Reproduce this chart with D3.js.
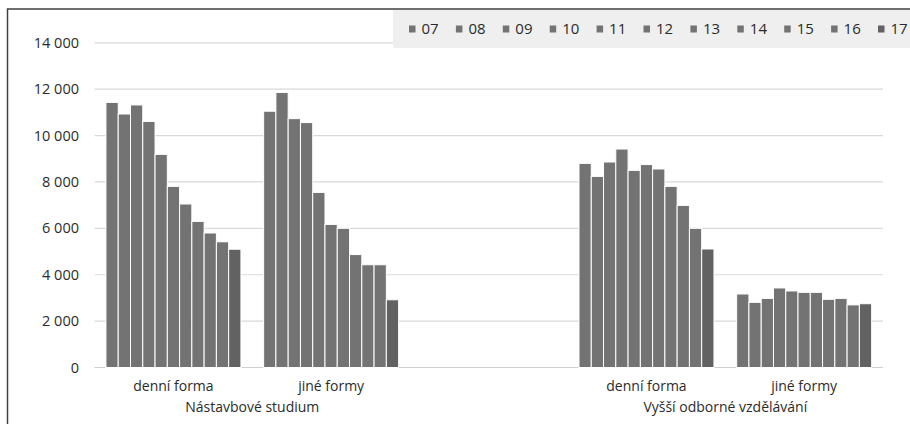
<!DOCTYPE html>
<html lang="cs">
    <head>
        <meta charset="utf-8">
        <title>Nástavbové studium a VOŠ</title>
        <script src="https://cdn.jsdelivr.net/npm/d3@7"></script>
        <style type="text/css">
            body { margin: 0; background: #fff; }
            text { font-family: "Open Sans", sans-serif; fill: #2b2b2b; }
        </style>
    </head>
    <body>
        <script type="text/javascript">
            // series = school years 07..17
            const years = ["07", "08", "09", "10", "11", "12", "13", "14", "15", "16", "17"]
            // x categories, "" is the empty slot between the two groups
            const categories = ["denní forma", "jiné formy", "", "denní forma", "jiné formy"]
            const groups = ["Nástavbové studium", "Vyšší odborné vzdělávání"]
            const yTicks = [0, 2000, 4000, 6000, 8000, 10000, 12000, 14000]

            // values, one array per category, years 07..17
            const nastDenni = [11430, 10930, 11320, 10610, 9190, 7810, 7050, 6300, 5800, 5420, 5100]
            const nastJine  = [11050, 11860, 10730, 10560, 7550, 6170, 6000, 4870, 4430, 4430, 2920]
            const vosDenni  = [8800, 8240, 8860, 9420, 8500, 8750, 8560, 7810, 6990, 6000, 5110]
            const vosJine   = [3170, 2810, 2980, 3430, 3300, 3240, 3240, 2940, 2980, 2700, 2750]

            const catValues = [nastDenni, nastJine, null, vosDenni, vosJine]

            const w = 910
            const h = 424
            const plotLeft = 94.6
            const plotRight = 883
            const plotTop = 42.8
            const plotBottom = 367.5

            const svg = d3.select("body")
                            .append("svg")
                            .attr("width", w)
                            .attr("height", h)

            // frame
            svg.append("path")
                .attr("d", `M7.5,${h} V9 H${w}`)
                .attr("fill", "none")
                .attr("stroke", "#404040")
                .attr("stroke-width", 1.5)

            const x0 = d3.scaleBand()
                            .domain(d3.range(categories.length))
                            .range([plotLeft, plotRight])
                            .paddingInner(0.144)
                            .paddingOuter(0.072)

            const x1 = d3.scaleBand()
                            .domain(years)
                            .range([0, x0.bandwidth()])

            const y = d3.scaleLinear()
                            .domain([0, 14000])
                            .range([plotBottom, plotTop])

            // gridlines
            svg.append("g")
                .selectAll("line")
                .data(yTicks)
                .enter()
                .append("line")
                .attr("x1", plotLeft)
                .attr("x2", plotRight)
                .attr("y1", d => y(d))
                .attr("y2", d => y(d))
                .attr("stroke", d => d === 0 ? "#cfcfcf" : "#d9d9d9")
                .attr("stroke-width", 1.2)

            // y labels
            const fmt = d => d3.format(",")(d).replace(/,/g, " ")
            svg.append("g")
                .selectAll("text")
                .data(yTicks)
                .enter()
                .append("text")
                .attr("x", 79)
                .attr("y", d => y(d))
                .attr("dy", "0.35em")
                .attr("text-anchor", "end")
                .attr("font-size", "14.5px")
                .text(fmt)

            // bars
            const barData = []
            catValues.forEach((vals, ci) => {
                if (!vals) return
                vals.forEach((v, yi) => barData.push({ ci, year: years[yi], v }))
            })

            svg.append("g")
                .selectAll("rect")
                .data(barData)
                .enter()
                .append("rect")
                .attr("x", d => x0(d.ci) + x1(d.year))
                .attr("y", d => y(d.v))
                .attr("width", x1.bandwidth())
                .attr("height", d => y(0) - y(d.v))
                .attr("fill", d => d.year === "17" ? "#626262" : "#737373")
                .attr("stroke", "#fff")
                .attr("stroke-width", 1)

            // category labels
            svg.append("g")
                .selectAll("text")
                .data(categories)
                .enter()
                .append("text")
                .attr("x", (d, i) => x0(i) + x0.bandwidth() / 2)
                .attr("y", 391)
                .attr("text-anchor", "middle")
                .attr("font-size", "14px")
                .text(d => d)

            // group labels
            svg.append("g")
                .selectAll("text")
                .data(groups)
                .enter()
                .append("text")
                .attr("x", (d, i) => {
                    const a = i * 3
                    return (x0(a) + x0(a + 1) + x0.bandwidth()) / 2
                })
                .attr("y", 412)
                .attr("text-anchor", "middle")
                .attr("font-size", "14px")
                .text(d => d)

            // legend
            const legend = svg.append("g")
            legend.append("rect")
                .attr("x", 393)
                .attr("y", 10)
                .attr("width", w - 393)
                .attr("height", 38)
                .attr("fill", "#efefef")

            const lx = d3.scalePoint()
                            .domain(years)
                            .range([409, 878])

            const item = legend.selectAll("g.item")
                            .data(years)
                            .enter()
                            .append("g")
                            .attr("class", "item")
                            .attr("transform", d => `translate(${lx(d)}, 28.5)`)

            item.append("rect")
                .attr("x", 0)
                .attr("y", -3)
                .attr("width", 6.5)
                .attr("height", 7)
                .attr("fill", d => d === "17" ? "#626262" : "#737373")

            item.append("text")
                .attr("x", 12.5)
                .attr("dy", "0.36em")
                .attr("font-size", "15px")
                .text(d => d)
        </script>
    </body>
</html>
